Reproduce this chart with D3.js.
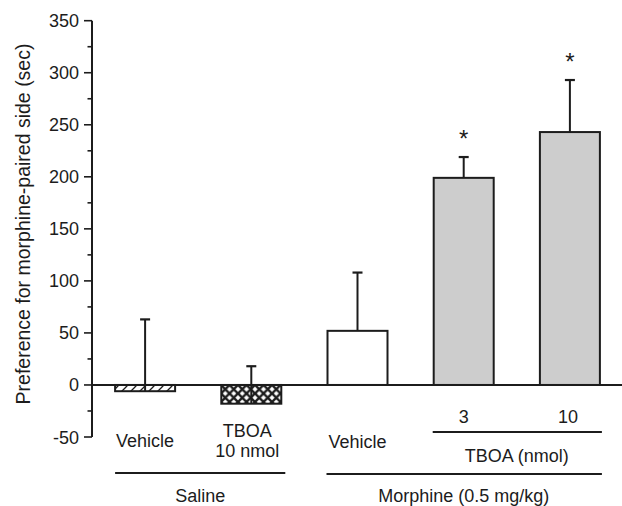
<!DOCTYPE html>
<html>
<head>
<meta charset="utf-8">
<script src="https://cdn.jsdelivr.net/npm/d3@7"></script>
<style>
  body { margin: 0; background: #fff; }
  svg { display: block; font-family: "Liberation Sans", Arial, Helvetica, sans-serif; }
</style>
</head>
<body>
<svg id="chart" width="622" height="506"></svg>
<script>
// groups, left to right
var groups = ['salVeh', 'salTboa', 'morVeh', 'morTboa3', 'morTboa10'];
var means = [-6, -18, 52, 199, 243];
var sems = [69, 36, 56, 20, 50];
var fills = ['hatch', 'cross', '#ffffff', '#cdcdcd', '#cdcdcd'];
var stars = [false, false, false, true, true];
var yTicks = [-50, 0, 50, 100, 150, 200, 250, 300, 350];

var svg = d3.select('#chart'),
    ink = '#1c1c1c',
    plotLeft = 92, plotRight = 623,
    plotTop = 20.7, plotBottom = 437,
    barW = 60;

var y = d3.scaleLinear().domain([-50, 350]).range([plotBottom, plotTop]);
var x = d3.scalePoint().domain(groups).range([plotLeft, plotRight]).padding(0.5);

var defs = svg.append('defs');
var hatch = defs.append('pattern').attr('id', 'hatch')
    .attr('patternUnits', 'userSpaceOnUse').attr('width', 9).attr('height', 9);
hatch.append('path').attr('d', 'M-1,10 L10,-1 M-2,2 L2,-2 M7,11 L11,7')
    .attr('stroke', ink).attr('stroke-width', 1.3);

var cross = defs.append('pattern').attr('id', 'cross')
    .attr('patternUnits', 'userSpaceOnUse').attr('width', 8.5).attr('height', 8.5)
    .attr('y', y(0));
cross.append('rect').attr('width', 8.5).attr('height', 8.5).attr('fill', '#fff');
cross.append('path').attr('d', 'M0,0 L8.5,8.5 M8.5,0 L0,8.5')
    .attr('stroke', ink).attr('stroke-width', 2.4);

// y axis with minor ticks
var axis = svg.append('g').attr('transform', 'translate(' + plotLeft + ',0)');
axis.append('line').attr('y1', y(350)).attr('y2', y(-50))
    .attr('stroke', ink).attr('stroke-width', 2);
axis.selectAll('line.minor').data(d3.range(-25, 350, 50)).enter()
    .append('line').attr('class', 'minor')
    .attr('x1', -4.5).attr('x2', 0)
    .attr('y1', y).attr('y2', y)
    .attr('stroke', ink).attr('stroke-width', 1.6);
axis.selectAll('line.major').data(yTicks).enter()
    .append('line').attr('class', 'major')
    .attr('x1', -8).attr('x2', 0)
    .attr('y1', y).attr('y2', y)
    .attr('stroke', ink).attr('stroke-width', 1.6);
axis.selectAll('text').data(yTicks).enter()
    .append('text')
    .attr('x', -13).attr('y', function (d) { return y(d) + 6.5; })
    .attr('text-anchor', 'end').attr('font-size', 18).attr('fill', ink)
    .text(String);

svg.append('text')
    .attr('transform', 'translate(30,224) rotate(-90)')
    .attr('text-anchor', 'middle').attr('font-size', 19.5).attr('fill', ink)
    .text('Preference for morphine-paired side (sec)');

// bars
var bars = svg.append('g');
bars.selectAll('rect').data(groups).enter()
    .append('rect')
    .attr('x', function (d) { return x(d) - barW / 2; })
    .attr('width', barW)
    .attr('y', function (d, i) { return y(Math.max(0, means[i])); })
    .attr('height', function (d, i) { return Math.abs(y(means[i]) - y(0)); })
    .attr('fill', function (d, i) {
        return fills[i].charAt(0) === '#' ? fills[i] : 'url(#' + fills[i] + ')';
    })
    .attr('stroke', ink).attr('stroke-width', 2);

// zero line
svg.append('line').attr('x1', plotLeft).attr('x2', 622)
    .attr('y1', y(0)).attr('y2', y(0))
    .attr('stroke', ink).attr('stroke-width', 2);

// error bars (upper only)
var err = svg.append('g');
err.selectAll('line.stem').data(groups).enter()
    .append('line').attr('class', 'stem')
    .attr('x1', x).attr('x2', x)
    .attr('y1', function (d, i) { return y(means[i]); })
    .attr('y2', function (d, i) { return y(means[i] + sems[i]); })
    .attr('stroke', ink).attr('stroke-width', 2);
err.selectAll('line.cap').data(groups).enter()
    .append('line').attr('class', 'cap')
    .attr('x1', function (d) { return x(d) - 5; })
    .attr('x2', function (d) { return x(d) + 5; })
    .attr('y1', function (d, i) { return y(means[i] + sems[i]); })
    .attr('y2', function (d, i) { return y(means[i] + sems[i]); })
    .attr('stroke', ink).attr('stroke-width', 2.2);

svg.selectAll('text.star').data(groups.filter(function (d, i) { return stars[i]; }))
    .enter().append('text').attr('class', 'star')
    .attr('x', x)
    .attr('y', function (d) {
        var i = groups.indexOf(d);
        return y(means[i] + sems[i]) - 10;
    })
    .attr('text-anchor', 'middle').attr('font-size', 24).attr('fill', ink)
    .text('*');

// category labels
var lab = svg.append('g').attr('font-size', 18).attr('fill', ink).attr('text-anchor', 'middle');
function label(cx, cy, txt) {
    lab.append('text').attr('x', cx).attr('y', cy).text(txt);
}
function rule(x1, x2, yy) {
    svg.append('line').attr('x1', x1).attr('x2', x2).attr('y1', yy).attr('y2', yy)
        .attr('stroke', ink).attr('stroke-width', 1.8);
}
label(x('salVeh'), 447, 'Vehicle');
label(x('salTboa') - 4, 437, 'TBOA');
label(x('salTboa') - 4, 457, '10 nmol');
rule(x('salVeh') - 30, x('salTboa') + 34, 473);
label((x('salVeh') - 30 + x('salTboa') + 34) / 2, 502, 'Saline');

label(x('morVeh'), 448, 'Vehicle');
label(x('morTboa3'), 423, '3');
label(x('morTboa10') - 2, 423, '10');
rule(x('morTboa3') - 31, x('morTboa10') + 32, 432);
label((x('morTboa3') + x('morTboa10')) / 2, 462, 'TBOA (nmol)');
rule(x('morVeh') - 31, x('morTboa10') + 32, 474);
label((x('morVeh') + x('morTboa10')) / 2, 502, 'Morphine (0.5 mg/kg)');
</script>
</body>
</html>
